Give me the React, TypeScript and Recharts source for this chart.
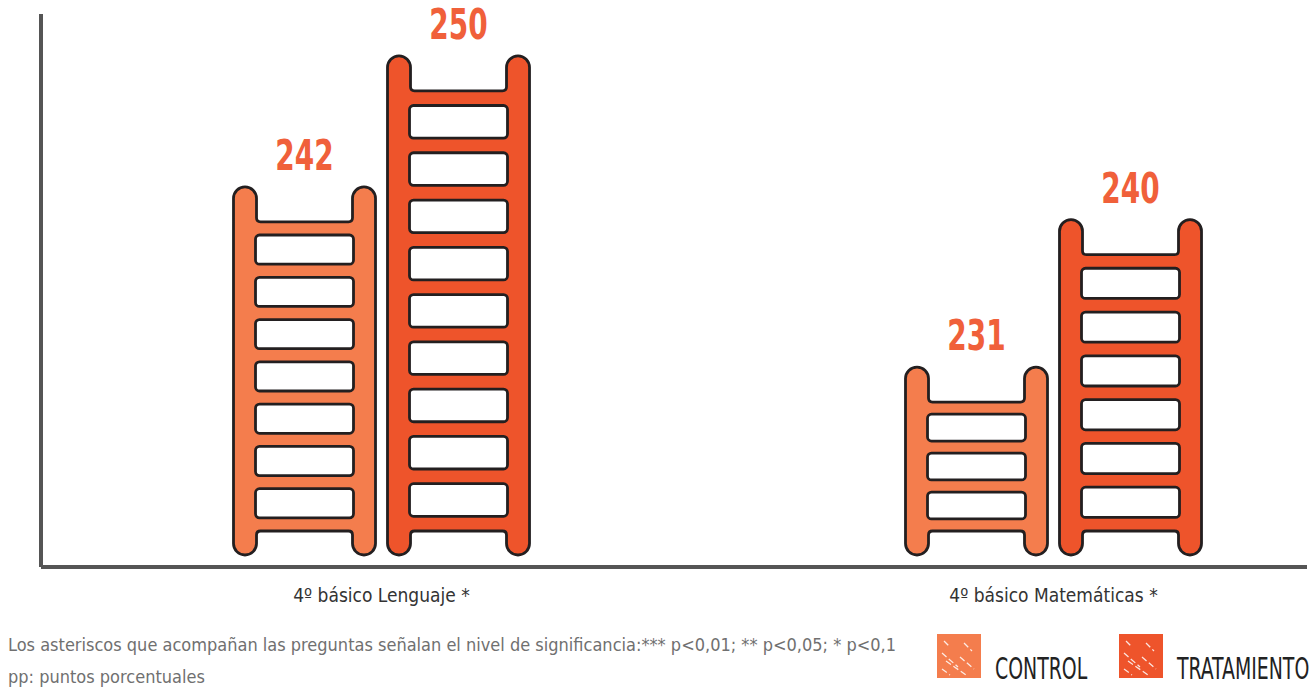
import React from 'react';
import { BarChart, Bar, XAxis, YAxis, Legend, LabelList } from 'recharts';

const categories = ['4º básico Lenguaje *', '4º básico Matemáticas *'];
const controlValues = [242, 231];
const treatmentValues = [250, 240];
const seriesNames = ['CONTROL', 'TRATAMIENTO'];
const seriesColors = ['#F47D4D', '#EE542B'];
const footnotes = [
  'Los asteriscos que acompañan las preguntas señalan el nivel de significancia:*** p<0,01; ** p<0,05; * p<0,1',
  'pp: puntos porcentuales',
];

const data = categories.map((c, i) => ({
  category: c,
  control: controlValues[i],
  tratamiento: treatmentValues[i],
}));

const FONT = "'Liberation Sans Narrow', 'DejaVu Sans Condensed', 'Roboto Condensed', 'Noto Sans', sans-serif";
const INK = '#231F20';

const Ladder = (props: any) => {
  const { x, y, width, height, fill } = props;
  if (width == null || height == null || height <= 0) return null;
  const L = x;
  const R = x + width;
  const T = y;
  const B = y + height - 12;
  const rw = 23;
  const rr = rw / 2;
  const notch = 35;
  const gap = 24;
  const d = [
    `M ${L} ${T + rr}`,
    `A ${rr} ${rr} 0 0 1 ${L + rw} ${T + rr}`,
    `L ${L + rw} ${T + notch - 4}`,
    `Q ${L + rw} ${T + notch} ${L + rw + 4} ${T + notch}`,
    `L ${R - rw - 4} ${T + notch}`,
    `Q ${R - rw} ${T + notch} ${R - rw} ${T + notch - 4}`,
    `L ${R - rw} ${T + rr}`,
    `A ${rr} ${rr} 0 0 1 ${R} ${T + rr}`,
    `L ${R} ${B - rr}`,
    `A ${rr} ${rr} 0 0 1 ${R - rw} ${B - rr}`,
    `L ${R - rw} ${B - gap + 4}`,
    `Q ${R - rw} ${B - gap} ${R - rw - 4} ${B - gap}`,
    `L ${L + rw + 4} ${B - gap}`,
    `Q ${L + rw} ${B - gap} ${L + rw} ${B - gap + 4}`,
    `L ${L + rw} ${B - rr}`,
    `A ${rr} ${rr} 0 0 1 ${L} ${B - rr}`,
    'Z',
  ].join(' ');
  const top = T + notch;
  const bottom = B - gap;
  const region = bottom - top;
  const n = Math.max(1, Math.round((region - 14) / 45));
  const unit = region / (31 * n + 14 * (n + 1));
  const rung = 14 * unit;
  const hole = 31 * unit;
  const holes = [];
  for (let i = 0; i < n; i++) {
    const hy = top + rung + i * (hole + rung);
    holes.push(
      <rect
        key={i}
        x={L + rw - 1}
        y={hy}
        width={width - 2 * rw + 2}
        height={hole}
        rx={4}
        ry={4}
        fill="#ffffff"
        stroke={INK}
        strokeWidth={2.8}
      />
    );
  }
  return (
    <g>
      <path d={d} fill={fill} stroke={INK} strokeWidth={2.8} strokeLinejoin="round" />
      {holes}
    </g>
  );
};

const ValueLabel = (props: any) => {
  const { x, y, width, value } = props;
  const cx = x + width / 2;
  const by = y - 17;
  return (
    <text
      transform={`translate(${cx},${by}) scale(0.74,1)`}
      x={0}
      y={0}
      textAnchor="middle"
      fill="#F0603A"
      fontFamily={FONT}
      fontWeight={700}
      fontSize={42}
    >
      {value}
    </text>
  );
};

const CategoryTick = (props: any) => {
  const { x, y, payload } = props;
  return (
    <text x={x} y={y + 27} textAnchor="middle" fill="#333333" fontFamily={FONT} fontSize={19}>
      {payload.value}
    </text>
  );
};

const LegendContent = (props: any) => {
  const { payload } = props;
  return (
    <div style={{ position: 'relative', width: 378, height: 50, fontFamily: FONT }}>
      {(payload || []).map((p: any, i: number) => (
        <div key={i} style={{ position: 'absolute', left: i * 182, top: 0, height: 50 }}>
          <svg width={46} height={46} style={{ position: 'absolute', left: 0, top: 1, display: 'block' }}>
            <rect x={1} y={1} width={44} height={44} fill={p.color} />
            <g stroke="#ffffff" strokeWidth={1.3} opacity={0.85} strokeDasharray="6 3">
              <line x1={8} y1={8} x2={14} y2={14} />
              <line x1={28} y1={10} x2={36} y2={18} />
              <line x1={6} y1={20} x2={22} y2={34} />
              <line x1={10} y1={28} x2={30} y2={42} />
              <line x1={24} y1={24} x2={38} y2={36} />
              <line x1={6} y1={36} x2={14} y2={42} />
            </g>
          </svg>
          <span
            style={{
              position: 'absolute',
              left: 59,
              top: 22,
              fontSize: 30,
              lineHeight: '30px',
              color: '#222222',
              whiteSpace: 'nowrap',
              transform: 'scaleX(0.7)',
              transformOrigin: 'left top',
            }}
          >
            {p.value}
          </span>
        </div>
      ))}
    </div>
  );
};

export default function App() {
  return (
    <div style={{ position: 'absolute', left: 0, top: 0, width: 1314, height: 687, background: '#ffffff' }}>
      <BarChart
        width={1314}
        height={687}
        data={data}
        margin={{ top: 14, right: 7, bottom: 80, left: 39 }}
        barSize={142}
        barGap={12}
      >
        <XAxis
          dataKey="category"
          axisLine={{ stroke: '#555555', strokeWidth: 4 }}
          tickLine={false}
          tick={<CategoryTick />}
          height={40}
          padding={{ left: 4.5, right: -82.5 }}
          interval={0}
        />
        <YAxis
          type="number"
          domain={[218.8, 252.55]}
          width={2}
          tick={false}
          tickLine={false}
          axisLine={{ stroke: '#555555', strokeWidth: 4 }}
        />
        <Legend
          verticalAlign="middle"
          align="center"
          layout="horizontal"
          content={<LegendContent />}
          wrapperStyle={{ left: 936, top: 632, width: 378, bottom: 'auto' }}
        />
        <Bar dataKey="control" name={seriesNames[0]} fill={seriesColors[0]} shape={<Ladder />} isAnimationActive={false}>
          <LabelList dataKey="control" content={<ValueLabel />} />
        </Bar>
        <Bar dataKey="tratamiento" name={seriesNames[1]} fill={seriesColors[1]} shape={<Ladder />} isAnimationActive={false}>
          <LabelList dataKey="tratamiento" content={<ValueLabel />} />
        </Bar>
      </BarChart>
      <div style={{ position: 'absolute', left: 8, top: 629, fontFamily: FONT, fontSize: 18, color: '#707070', lineHeight: '32px', whiteSpace: 'nowrap' }}>
        {footnotes.map((f, i) => (
          <div key={i}>{f}</div>
        ))}
      </div>
    </div>
  );
}
